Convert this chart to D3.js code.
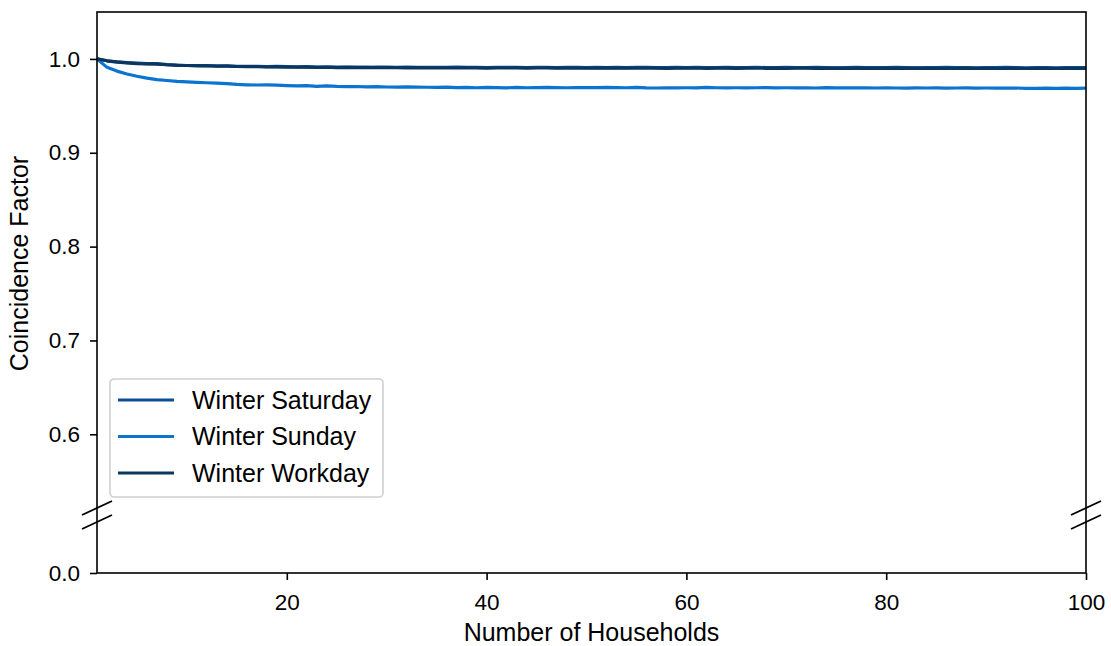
<!DOCTYPE html>
<html>
<head>
<meta charset="utf-8">
<script src="https://cdn.jsdelivr.net/npm/d3@7"></script>
<style>
  body { margin: 0; background: #fff; }
  svg { font-family: "Liberation Sans", Arial, sans-serif; }
  .tick text { fill: #000; }
</style>
</head>
<body>
<div id="chart"></div>
<script>
// number of households, 1..100
var households = d3.range(1, 101);

var saturday = [
  1.000, 0.998, 0.997, 0.996, 0.9955, 0.995, 0.995, 0.994, 0.9935, 0.993,
  0.993, 0.9928, 0.9925, 0.9925, 0.9922, 0.992, 0.9922, 0.9918, 0.992, 0.9917,
  0.9915, 0.9918, 0.9914, 0.9916, 0.9912, 0.9914, 0.9913, 0.9911, 0.9913, 0.9912,
  0.9910, 0.9912, 0.9911, 0.9909, 0.9911, 0.9910, 0.9912, 0.9909, 0.9910, 0.9908,
  0.9910, 0.9909, 0.9911, 0.9908, 0.9910, 0.9909, 0.9908, 0.9910, 0.9909, 0.9907,
  0.9909, 0.9908, 0.9910, 0.9907, 0.9909, 0.9911, 0.9908, 0.9907, 0.9909, 0.9908,
  0.9910, 0.9907, 0.9908, 0.9909, 0.9907, 0.9908, 0.9910, 0.9908, 0.9907, 0.9909,
  0.9908, 0.9907, 0.9909, 0.9908, 0.9906, 0.9908, 0.9909, 0.9907, 0.9908, 0.9907,
  0.9909, 0.9908, 0.9906, 0.9908, 0.9907, 0.9909, 0.9908, 0.9907, 0.9906, 0.9908,
  0.9907, 0.9909, 0.9907, 0.9906, 0.9908, 0.9907, 0.9906, 0.9908, 0.9907, 0.9908
];

var sunday = [
  1.000, 0.991, 0.987, 0.984, 0.9815, 0.9795, 0.978, 0.977, 0.976, 0.9755,
  0.975, 0.9746, 0.9742, 0.9736, 0.9728, 0.9724, 0.9722, 0.9723, 0.9720, 0.9715,
  0.9712, 0.9716, 0.9708, 0.9713, 0.9707, 0.9705, 0.9706, 0.9703, 0.9704, 0.9701,
  0.9700, 0.9702, 0.9700, 0.9698, 0.9697, 0.9699, 0.9694, 0.9697, 0.9693, 0.9697,
  0.9695, 0.9692, 0.9696, 0.9693, 0.9694, 0.9697, 0.9695, 0.9693, 0.9694, 0.9695,
  0.9694, 0.9696, 0.9695, 0.9693, 0.9697, 0.9692, 0.9690, 0.9693, 0.9692, 0.9693,
  0.9692, 0.9697, 0.9693, 0.9692, 0.9693, 0.9692, 0.9693, 0.9694, 0.9692, 0.9693,
  0.9692, 0.9693, 0.9690, 0.9694, 0.9692, 0.9692, 0.9691, 0.9692, 0.9690, 0.9691,
  0.9690, 0.9689, 0.9691, 0.9690, 0.9691, 0.9689, 0.9690, 0.9691, 0.9689, 0.9690,
  0.9689, 0.9688, 0.9690, 0.9687, 0.9686, 0.9689, 0.9687, 0.9688, 0.9686, 0.9688
];

var workday = [
  1.000, 0.998, 0.9965, 0.9958, 0.995, 0.9948, 0.9945, 0.9938, 0.9932, 0.993,
  0.9926, 0.9927, 0.9922, 0.9923, 0.9919, 0.9917, 0.9918, 0.9914, 0.9915, 0.9913,
  0.9912, 0.9913, 0.9910, 0.9911, 0.9908, 0.9910, 0.9907, 0.9909, 0.9906, 0.9908,
  0.9906, 0.9905, 0.9907, 0.9904, 0.9906, 0.9905, 0.9903, 0.9905, 0.9904, 0.9902,
  0.9904, 0.9903, 0.9905, 0.9902, 0.9903, 0.9904, 0.9902, 0.9903, 0.9901, 0.9903,
  0.9902, 0.9904, 0.9901, 0.9902, 0.9903, 0.9901, 0.9902, 0.9900, 0.9902, 0.9901,
  0.9903, 0.9900, 0.9901, 0.9902, 0.9900, 0.9901, 0.9903, 0.9900, 0.9901, 0.9899,
  0.9901, 0.9902, 0.9900, 0.9899, 0.9901, 0.9900, 0.9902, 0.9899, 0.9900, 0.9901,
  0.9899, 0.9900, 0.9901, 0.9899, 0.9900, 0.9898, 0.9900, 0.9901, 0.9899, 0.9900,
  0.9898, 0.9900, 0.9899, 0.9898, 0.9900, 0.9899, 0.9898, 0.9900, 0.9899, 0.9899
];

var seriesNames = ["Winter Saturday", "Winter Sunday", "Winter Workday"];
var seriesColors = ["#0a5096", "#0b74d0", "#0b3660"];
var xTicks = [20, 40, 60, 80, 100];
var yTicks = [0.0, 0.6, 0.7, 0.8, 0.9, 1.0];

var width = 1111;
var height = 646;

var plotLeft = 97;
var plotRight = 1086;
var plotTop = 12;
var plotBottom = 573;
var breakY = 515;   // where the y axis is cut

var tickFont = 22.5;
var labelFont = 25;

var svg = d3.select("#chart")
    .append("svg")
    .attr("width", width)
    .attr("height", height);

var xScale = d3.scaleLinear()
    .domain([1, 100])
    .range([plotLeft, plotRight]);

// broken y axis: short stub 0..0.514, then 0.514..1.05
var yScale = d3.scaleLinear()
    .domain([0, 0.514, 1.05])
    .range([plotBottom, breakY, plotTop]);

// x axis
var xAxis = d3.axisBottom(xScale)
    .tickValues(xTicks)
    .tickFormat(d3.format("d"))
    .tickSizeInner(7)
    .tickSizeOuter(0)
    .tickPadding(14);

var gx = svg.append("g")
    .attr("transform", "translate(0," + plotBottom + ")")
    .call(xAxis);
gx.select(".domain").remove();
gx.selectAll(".tick line").attr("stroke", "#000").attr("stroke-width", 1.6);
gx.selectAll(".tick text").attr("font-size", tickFont);

// y axis
var yAxis = d3.axisLeft(yScale)
    .tickValues(yTicks)
    .tickFormat(d3.format(".1f"))
    .tickSizeInner(7)
    .tickSizeOuter(0)
    .tickPadding(10);

var gy = svg.append("g")
    .attr("transform", "translate(" + plotLeft + ",0)")
    .call(yAxis);
gy.select(".domain").remove();
gy.selectAll(".tick line").attr("stroke", "#000").attr("stroke-width", 1.6);
gy.selectAll(".tick text").attr("font-size", tickFont);

// lines
var line = d3.line()
    .x(function(d, i) { return xScale(households[i]); })
    .y(function(d) { return yScale(d); });

var allSeries = [saturday, sunday, workday];

svg.append("defs").append("clipPath")
    .attr("id", "plotClip")
    .append("rect")
    .attr("x", plotLeft)
    .attr("y", plotTop)
    .attr("width", plotRight - plotLeft)
    .attr("height", plotBottom - plotTop);

svg.append("g")
    .attr("clip-path", "url(#plotClip)")
    .selectAll("path")
    .data(allSeries)
    .enter()
    .append("path")
    .attr("d", line)
    .attr("fill", "none")
    .attr("stroke", function(d, i) { return seriesColors[i]; })
    .attr("stroke-width", 3.2)
    .attr("stroke-linejoin", "round");

// frame
svg.append("rect")
    .attr("x", plotLeft)
    .attr("y", plotTop)
    .attr("width", plotRight - plotLeft)
    .attr("height", plotBottom - plotTop)
    .attr("fill", "none")
    .attr("stroke", "#000")
    .attr("stroke-width", 1.6);

// break marks on both spines
[plotLeft, plotRight].forEach(function(sx) {
    [-7, 7].forEach(function(off) {
        svg.append("line")
            .attr("x1", sx - 15)
            .attr("y1", breakY + off + 7)
            .attr("x2", sx + 15)
            .attr("y2", breakY + off - 7)
            .attr("stroke", "#000")
            .attr("stroke-width", 1.8);
    });
});

// axis labels
svg.append("text")
    .attr("x", (plotLeft + plotRight) / 2)
    .attr("y", 641)
    .attr("text-anchor", "middle")
    .attr("font-size", labelFont)
    .text("Number of Households");

svg.append("text")
    .attr("transform", "translate(28," + ((plotTop + breakY) / 2) + ")rotate(-90)")
    .attr("text-anchor", "middle")
    .attr("font-size", labelFont)
    .text("Coincidence Factor");

// legend
var legend = svg.append("g").attr("transform", "translate(110,379)");

legend.append("rect")
    .attr("width", 273)
    .attr("height", 118)
    .attr("rx", 4)
    .attr("fill", "#fff")
    .attr("fill-opacity", 0.8)
    .attr("stroke", "#d0d0d0")
    .attr("stroke-width", 1.6);

var rows = legend.selectAll("g.row")
    .data(seriesNames)
    .enter()
    .append("g")
    .attr("class", "row")
    .attr("transform", function(d, i) { return "translate(0," + (21 + i * 36.5) + ")"; });

rows.append("line")
    .attr("x1", 8)
    .attr("x2", 64)
    .attr("stroke", function(d, i) { return seriesColors[i]; })
    .attr("stroke-width", 3.2);

rows.append("text")
    .attr("x", 82)
    .attr("dy", "0.35em")
    .attr("font-size", labelFont)
    .text(function(d) { return d; });
</script>
</body>
</html>
